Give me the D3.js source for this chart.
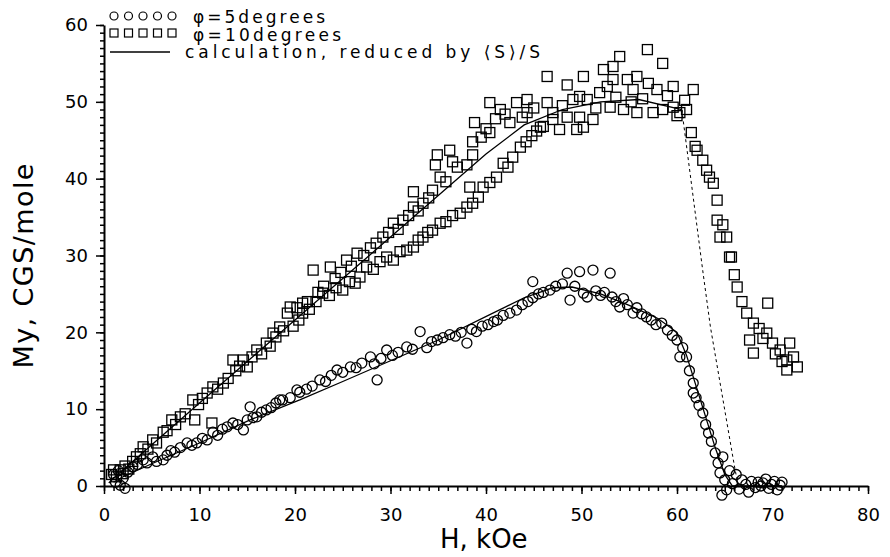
<!DOCTYPE html>
<html>
<head>
<meta charset="utf-8">
<script src="https://cdn.jsdelivr.net/npm/d3@7"></script>
<style>
  body { margin: 0; background: #fff; }
  text { font-family: "DejaVu Sans", sans-serif; fill: #000; }
</style>
</head>
<body>
<div id="chart"></div>
<script>
// phi = 5 degrees, [H kOe, My]
const phi5Points = [
  [1.0,1.5],[1.2,0.5],[1.5,2.0],[1.7,0.1],[2.0,1.0],[2.2,-0.3],[2.5,1.8],[3.0,2.5],[3.5,2.8],[4.1,3.4],
  [4.5,3.0],[5.1,3.8],[5.5,3.2],[6.2,3.4],[6.6,4.0],[7.0,4.6],[7.4,4.4],[8.0,5.0],[8.7,5.6],[9.2,5.3],
  [9.7,5.6],[10.3,6.2],[10.8,6.0],[11.4,7.0],[11.9,6.6],[12.4,7.4],[12.9,7.7],[13.5,8.2],[14.0,8.0],[14.6,7.3],
  [15.0,8.6],[15.3,10.3],[15.6,8.9],[16.0,9.0],[16.5,9.6],[17.0,9.9],[17.5,10.2],[18.0,10.8],[18.4,11.2],[18.7,11.2],
  [19.5,11.5],[20.2,12.5],[20.5,12.2],[21.2,12.6],[21.8,13.0],[22.6,13.8],[23.2,13.6],[23.8,14.4],[24.4,15.1],[25.0,14.8],
  [25.8,15.5],[26.4,15.4],[27.0,16.0],[27.9,16.8],[28.3,15.9],[28.6,13.8],[29.0,16.6],[29.6,17.7],[30.2,17.0],[30.8,17.4],
  [31.7,18.1],[32.3,17.8],[33.1,20.1],[33.8,18.0],[34.3,18.8],[34.9,19.0],[35.5,19.3],[36.2,19.7],[36.8,19.5],[37.4,20.0],
  [38.0,18.6],[38.5,20.4],[39.0,20.1],[39.6,20.8],[40.2,21.0],[40.8,21.4],[41.2,21.6],[41.8,22.2],[42.5,22.5],[43.2,22.9],
  [43.8,23.6],[44.4,24.0],[44.9,24.5],[44.9,26.6],[45.5,25.0],[46.0,25.2],[46.7,25.5],[47.3,26.0],[48.0,26.3],[48.5,27.7],
  [48.8,24.2],[49.3,26.0],[49.8,27.9],[50.2,25.1],[50.6,24.6],[51.2,28.1],[51.5,25.4],[52.0,24.8],[52.4,25.2],[53.0,27.7],
  [53.2,24.6],[53.6,24.0],[54.0,23.3],[54.4,24.4],[54.8,23.6],[55.4,22.5],[55.8,23.2],[56.3,22.4],[56.8,22.0],[57.3,21.6],
  [57.8,21.0],[58.4,21.2],[59.0,20.3],[59.5,19.6],[60.0,19.0],[60.3,16.8],[60.6,18.0],[61.0,16.8],[61.3,15.0],[61.7,13.4],
  [61.7,12.1],[62.0,11.5],[62.3,10.5],[62.7,9.5],[63.0,8.0],[63.3,6.9],[63.6,5.8],[64.0,4.3],[64.3,3.0],[64.5,1.7],
  [64.8,3.8],[64.7,-1.2],[65.2,-0.5],[65.0,0.8],[65.5,2.0],[65.8,0.3],[66.2,1.5],[66.5,-0.4],[66.8,0.8],[67.2,0.2],
  [67.5,-0.8],[67.8,0.6],[68.2,-0.2],[68.5,0.5],[68.8,0.0],[69.0,0.4],[69.3,0.9],[69.6,-0.3],[69.9,0.2],[70.2,0.6],
  [70.5,-0.5],[70.8,0.1],[71.0,0.5]
];

// phi = 10 degrees, [H kOe, My]
const phi10Points = [
  [0.8,1.5],[1.0,2.1],[1.3,1.2],[1.7,2.1],[2.0,1.6],[2.2,2.6],[2.6,2.2],[3.0,3.2],[3.4,3.8],[3.8,4.2],
  [4.1,5.1],[4.6,4.8],[5.1,6.0],[5.5,5.6],[6.2,7.0],[6.6,7.2],[7.1,8.6],[7.5,8.0],[8.0,9.0],[8.5,9.4],
  [9.3,11.2],[9.5,8.6],[9.9,10.6],[10.3,11.4],[10.8,12.1],[11.3,8.2],[11.4,12.9],[11.9,12.6],[12.5,13.4],[13.0,14.0],
  [13.5,16.4],[13.8,15.0],[14.2,15.6],[14.6,16.4],[15.0,15.5],[15.5,16.8],[16.0,17.7],[16.5,17.2],[17.0,18.6],[17.4,18.2],
  [17.7,19.9],[18.0,19.4],[18.4,20.7],[18.8,20.2],[19.2,22.5],[19.5,23.3],[19.8,20.8],
  // upper branch
  [20.2,23.2],[20.8,23.8],[21.3,24.0],[21.9,28.1],[22.4,25.2],[23.0,26.0],[23.7,28.5],[24.2,27.0],[24.8,27.8],[25.4,29.4],
  [25.9,28.6],[26.5,30.3],[27.2,30.0],[27.9,31.0],[28.5,31.6],[29.2,32.4],[29.8,33.0],[30.3,34.2],[30.8,33.4],[31.3,34.6],
  [31.9,35.2],[32.4,36.3],[32.4,38.3],[32.9,35.8],[33.4,36.8],[34.0,37.5],[34.4,38.5],[34.7,41.8],[34.9,43.1],[35.2,40.2],
  [35.8,39.6],[36.2,43.7],[36.5,42.2],[37.0,41.5],[38.0,41.8],[38.6,43.1],[38.6,44.8],[38.8,47.3],[39.5,45.4],[40.0,46.5],
  [40.4,49.9],[40.4,46.0],[41.0,47.8],[41.5,49.0],[42.0,48.4],[42.5,47.3],[43.2,49.9],[43.8,48.0],[44.3,50.3],[44.3,48.6],
  [45.0,49.2],[45.7,46.7],[46.4,49.9],[46.4,53.3],[47.0,47.7],[47.0,48.6],[47.7,46.4],[48.0,49.5],[48.5,48.0],[48.5,52.2],
  [49.1,50.3],[49.5,46.4],[49.8,48.0],[49.8,50.7],[50.2,46.7],[50.2,53.3],[50.6,50.3],[51.2,47.7],[51.5,49.2],[51.9,51.2],
  [52.3,54.2],[52.7,52.0],[53.0,49.3],[53.3,54.6],[53.3,52.9],[53.6,50.6],[54.0,55.9],[54.4,49.0],[54.8,52.9],[55.2,50.0],
  [55.4,51.6],[55.8,53.3],[55.8,48.6],[56.4,50.4],[56.9,56.8],[57.0,52.4],[57.5,48.6],[57.9,51.6],[58.5,49.0],[58.5,55.0],
  [59.0,50.8],[59.6,49.3],[59.6,52.0],[60.0,48.2],[60.3,48.6],[60.8,50.2],[61.0,49.0],[61.7,51.6],[61.5,46.0],[61.9,44.2],
  [62.1,43.7],[62.7,42.4],[63.1,41.1],[63.4,40.2],[63.8,39.4],[64.2,37.2],[64.2,34.6],[64.5,32.4],[64.8,34.0],[65.2,32.4],
  [65.5,29.8],[65.7,29.8],[66.0,27.5],[66.3,25.9],[66.8,24.0],[67.3,22.5],[67.6,19.0],[68.0,21.2],[68.0,17.3],[68.6,20.5],
  [69.0,19.2],[69.4,19.9],[69.5,23.8],[70.0,18.6],[70.3,17.2],[70.8,17.7],[71.0,16.2],[71.5,16.4],[71.5,15.1],[71.8,18.6],
  [72.2,16.8],[72.6,15.5],
  // lower branch
  [20.4,21.6],[20.8,22.5],[21.5,23.0],[22.2,24.0],[22.9,25.1],[23.6,24.8],[24.3,25.8],[25.0,25.5],[25.7,26.6],[26.3,26.4],
  [26.8,27.2],[27.5,28.5],[28.2,28.2],[28.9,29.2],[29.6,29.8],[30.3,29.4],[31.0,30.5],[31.7,30.7],[32.4,31.1],[32.9,32.0],
  [33.4,32.4],[33.9,33.0],[34.4,33.3],[35.2,34.2],[35.8,34.4],[36.5,35.2],[37.3,35.5],[38.0,36.3],[38.3,38.9],[38.6,36.8],
  [39.2,37.6],[39.7,38.9],[40.4,39.5],[41.1,40.2],[41.8,42.0],[42.3,41.5],[42.8,42.8],[43.6,44.1],[44.2,44.8],[44.8,45.6],
  [45.3,46.2],[46.0,46.8]
];

// calculation curves
const calc5 = [
  [1,0.5],[2,1.2],[5,2.9],[10,5.6],[15.3,8.6],[20.5,11.2],[25,13.6],[30,16.3],[35,19],[40.4,22.3],
  [44,24.5],[47,25.8],[49,25.9],[52,25],[55,23.5],[58,21.8],[60,20],[61,17],[62,13],[63,9],
  [64,5],[65,1.5],[65.8,0],[71,0]
];
const calc10 = [
  [0.5,0.4],[1,1],[10,10.8],[20,21.6],[30,32.4],[40,43.2],[44,47],[48,49],[52,50],[56,50.3],[60.5,49]
];
const calc10Drop = [[60.5,49],[62.7,28],[63.5,20.7],[65.9,3.4],[66.4,0]];

const xMajor = d3.range(0, 81, 10);
const xMinor = d3.range(0, 81, 1);
const yMajor = d3.range(0, 61, 10);
const yMinor = d3.range(0, 61, 1);

const legendLabels = ["\u03c6=5degrees", "\u03c6=10degrees", "calculation, reduced by \u27e8S\u27e9/S"];

const width = 890, height = 557;
const margin = { top: 25, right: 22, bottom: 71, left: 104 };
const innerWidth = width - margin.left - margin.right;
const innerHeight = height - margin.top - margin.bottom;

const svg = d3.select("#chart")
  .append("svg")
  .attr("width", width)
  .attr("height", height);

const innerChart = svg
  .append("g")
  .attr("transform", `translate(${margin.left}, ${margin.top})`);

const xScale = d3.scaleLinear().domain([0, 80]).range([0, innerWidth]);
const yScale = d3.scaleLinear().domain([0, 60]).range([innerHeight, 0]);

// axes: minor ticks first (no labels), then major with labels
const xMinorAxis = d3.axisBottom(xScale).tickValues(xMinor).tickSize(5).tickFormat("");
const xMajorAxis = d3.axisBottom(xScale).tickValues(xMajor).tickSize(8).tickPadding(14).tickSizeOuter(0);
const yMinorAxis = d3.axisLeft(yScale).tickValues(yMinor).tickSize(4).tickFormat("");
const yMajorAxis = d3.axisLeft(yScale).tickValues(yMajor).tickSize(8).tickPadding(8).tickSizeOuter(0);

const stripMinor = g => {
  g.select(".domain").remove();
  g.selectAll("text").remove();
};

const gx = innerChart.append("g").attr("transform", `translate(0, ${innerHeight})`);
gx.append("g").call(xMinorAxis).call(stripMinor);
gx.append("g").call(xMajorAxis);

const gy = innerChart.append("g");
gy.append("g").call(yMinorAxis).call(stripMinor);
gy.append("g").call(yMajorAxis);

innerChart.selectAll(".domain").attr("stroke-width", 2);
innerChart.selectAll(".tick line").attr("stroke-width", 1.5);
innerChart.selectAll(".tick text")
  .style("font-family", "DejaVu Sans")
  .style("font-size", "18px");

// calculation lines
const line = d3.line().x(d => xScale(d[0])).y(d => yScale(d[1]));

innerChart.append("path").datum(calc5)
  .attr("d", line).attr("fill", "none").attr("stroke", "#000").attr("stroke-width", 1.3);
innerChart.append("path").datum(calc10)
  .attr("d", line).attr("fill", "none").attr("stroke", "#000").attr("stroke-width", 1.3);
innerChart.append("path").datum(calc10Drop)
  .attr("d", line).attr("fill", "none").attr("stroke", "#000").attr("stroke-width", 1)
  .attr("stroke-dasharray", "3,3");

// data points
innerChart.selectAll(".circ")
  .data(phi5Points)
  .join("circle")
    .attr("class", "circ")
    .attr("cx", d => xScale(d[0]))
    .attr("cy", d => yScale(d[1]))
    .attr("r", 5)
    .attr("fill", "none")
    .attr("stroke", "#000")
    .attr("stroke-width", 1.3);

const sq = 10;
innerChart.selectAll(".sq")
  .data(phi10Points)
  .join("rect")
    .attr("class", "sq")
    .attr("x", d => xScale(d[0]) - sq / 2)
    .attr("y", d => yScale(d[1]) - sq / 2)
    .attr("width", sq)
    .attr("height", sq)
    .attr("fill", "none")
    .attr("stroke", "#000")
    .attr("stroke-width", 1.3);

// legend
const legend = svg.append("g");
const legendX = d3.range(5).map(i => 114 + i * 14.5);

legend.selectAll(".lc").data(legendX).join("circle")
  .attr("cx", d => d).attr("cy", 16).attr("r", 4)
  .attr("fill", "none").attr("stroke", "#000").attr("stroke-width", 1.2);
legend.selectAll(".ls").data(legendX).join("rect")
  .attr("x", d => d - 4).attr("y", 29).attr("width", 8).attr("height", 8)
  .attr("fill", "none").attr("stroke", "#000").attr("stroke-width", 1.2);
legend.append("line")
  .attr("x1", 110).attr("x2", 170).attr("y1", 52).attr("y2", 52)
  .attr("stroke", "#000").attr("stroke-width", 1.3);

const legendText = [
  { x: 193, y: 23, len: 132 },
  { x: 193, y: 41, len: 148 },
  { x: 185, y: 58, len: 355 }
];
legend.selectAll(".lt").data(legendLabels).join("text")
  .attr("x", (d, i) => legendText[i].x)
  .attr("y", (d, i) => legendText[i].y)
  .attr("textLength", (d, i) => legendText[i].len)
  .attr("lengthAdjust", "spacing")
  .style("font-size", "17px")
  .text(d => d);

// axis titles
svg.append("text")
  .attr("x", 440).attr("y", 548)
  .style("font-size", "26px")
  .text("H, kOe");

svg.append("text")
  .attr("transform", "translate(33, 266) rotate(-90)")
  .attr("text-anchor", "middle")
  .attr("textLength", 205)
  .attr("lengthAdjust", "spacing")
  .style("font-size", "27px")
  .text("My, CGS/mole");
</script>
</body>
</html>
